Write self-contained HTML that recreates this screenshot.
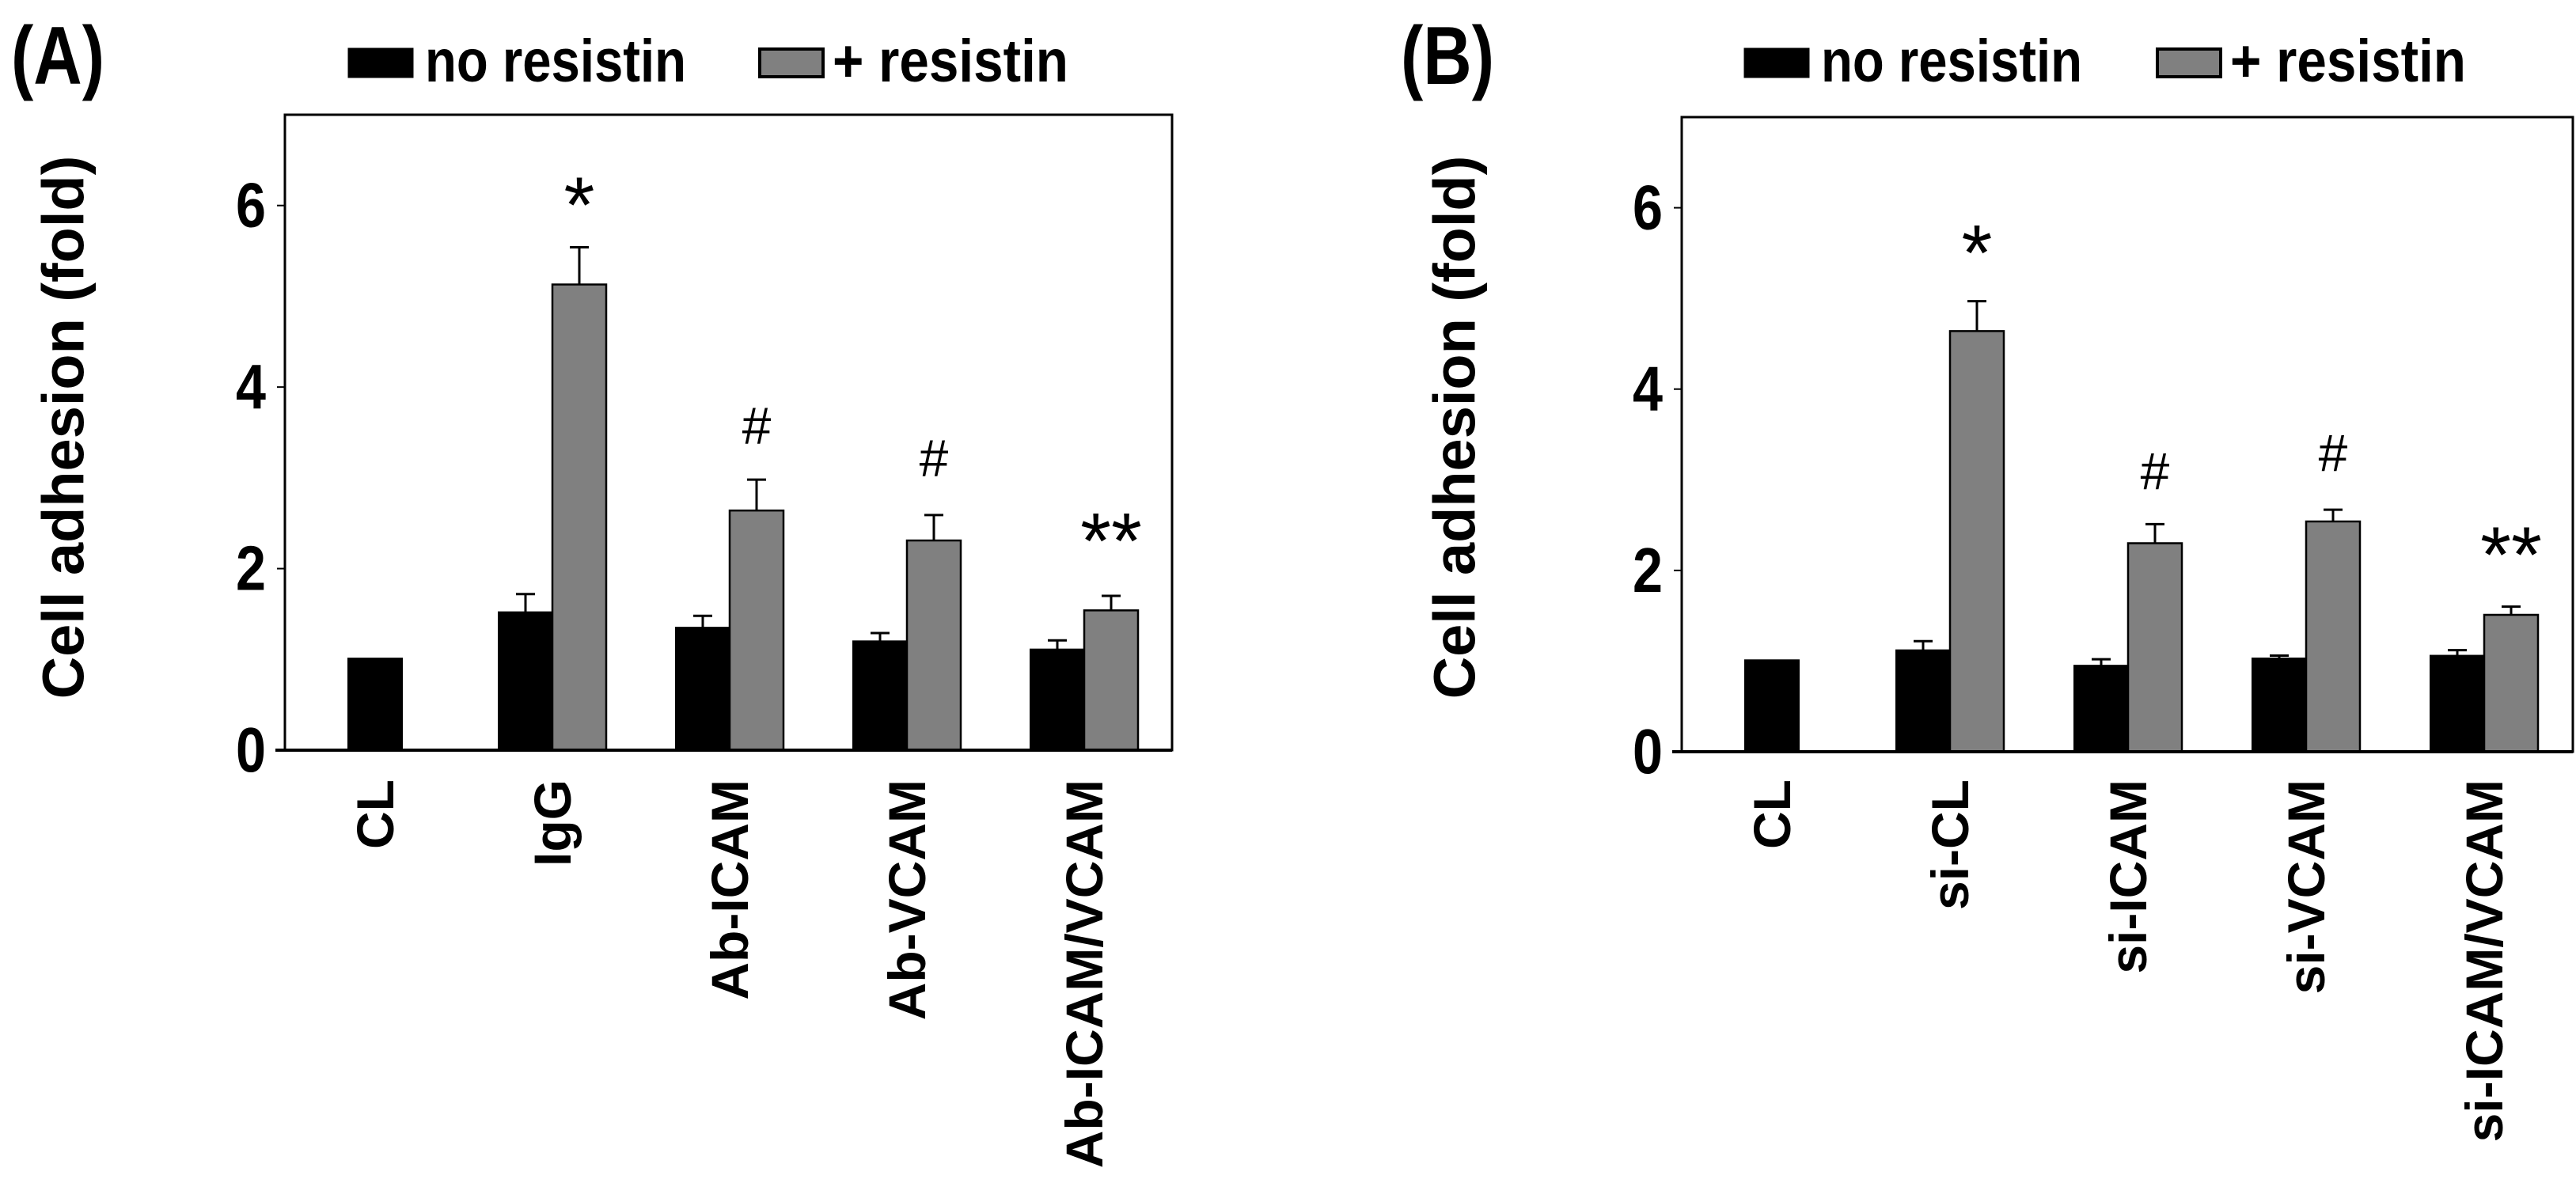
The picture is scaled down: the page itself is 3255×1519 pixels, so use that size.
<!DOCTYPE html>
<html><head><meta charset="utf-8"><style>
html,body{margin:0;padding:0;background:#fff;}
svg{display:block;font-family:"Liberation Sans",sans-serif;}
</style></head><body>
<svg id="fig" width="3255" height="1519" viewBox="0 0 3255 1519" xmlns="http://www.w3.org/2000/svg"></svg>
<script>
const categoriesA = ["CL","IgG","Ab-ICAM","Ab-VCAM","Ab-ICAM/VCAM"];
const noResA = [1.01, 1.52, 1.35, 1.20, 1.11];
const noResErrA = [0, 0.20, 0.13, 0.09, 0.10];
const resA = [null, 5.13, 2.64, 2.31, 1.54];
const resErrA = [0, 0.41, 0.34, 0.28, 0.16];
const marksA = ["", "*", "#", "#", "**"];
const markValA = [0, 6.0, 3.58, 3.22, 2.30];

const categoriesB = ["CL","si-CL","si-ICAM","si-VCAM","si-ICAM/VCAM"];
const noResB = [1.01, 1.12, 0.95, 1.03, 1.06];
const noResErrB = [0, 0.10, 0.07, 0.03, 0.06];
const resB = [null, 4.64, 2.30, 2.54, 1.51];
const resErrB = [0, 0.33, 0.21, 0.13, 0.09];
const marksB = ["", "*", "#", "#", "**"];
const markValB = [0, 5.5, 3.10, 3.30, 2.17];

const yTicks = [0, 2, 4, 6];
const yMax = 7;

const NS = "http://www.w3.org/2000/svg";
const svg = document.getElementById("fig");
function mk(tag, attrs, parent, text){
  const e = document.createElementNS(NS, tag);
  for (const k in attrs) e.setAttribute(k, attrs[k]);
  if (text !== undefined) e.textContent = text;
  (parent || svg).appendChild(e);
  return e;
}

function panel(cfg){
  const g = mk("g", {});
  
  
  const yS = v => cfg.bottom - (v / yMax) * (cfg.bottom - cfg.top);
  const xC = i => cfg.x0 + cfg.step * i;
  const bw = 68;

  const pl = mk("text", {x: cfg.labelX, y: 106, "font-size": 104, "font-weight": "bold", textLength: 118, lengthAdjust: "spacingAndGlyphs"}, g, cfg.letter);
  
  

  const lg = mk("g", {}, g);
  
  
  const lb1 = mk("rect", {x: cfg.legX1, y: 62, width: 80, height: 35, fill: "#000", stroke: "#000", "stroke-width": 3}, lg);
  
  
  const lt1 = mk("text", {x: cfg.legX1 + 96, y: 103, "font-size": 76, "font-weight": "bold", textLength: 330, lengthAdjust: "spacingAndGlyphs"}, lg, "no resistin");
  
  
  const lb2 = mk("rect", {x: cfg.legX2, y: 62, width: 80, height: 35, fill: "#808080", stroke: "#000", "stroke-width": 4}, lg);
  
  
  const lt2 = mk("text", {x: cfg.legX2 + 92, y: 103, "font-size": 76, "font-weight": "bold", textLength: 298, lengthAdjust: "spacingAndGlyphs"}, lg, "+ resistin");
  
  

  const yt = mk("text", {x: 0, y: 0, "font-size": 74, "font-weight": "bold", "text-anchor": "middle", "dominant-baseline": "central", transform: `translate(${cfg.yTitleX},540) rotate(-90)`}, g, "Cell adhesion (fold)");
  
  

  const fr = mk("rect", {x: cfg.left, y: cfg.top, width: cfg.right - cfg.left, height: cfg.bottom - cfg.top, fill: "none", stroke: "#000", "stroke-width": 3}, g);
  
  

  yTicks.forEach(t => {
    const y = yS(t);
    const tk = mk("line", {x1: cfg.left - 10, x2: cfg.left, y1: y, y2: y, stroke: "#000", "stroke-width": 2}, g);
    
    
    const tl = mk("text", {x: cfg.left - 62, y: y + 27, "font-size": 80, "font-weight": "bold", textLength: 38, lengthAdjust: "spacingAndGlyphs"}, g, String(t));
    
    
  });

  function errBar(cx, v, e){
    if (!e) return;
    const y1 = yS(v), y2 = yS(v + e);
    const l = mk("path", {d: `M${cx},${y1} V${y2} M${cx-12},${y2} H${cx+12}`, stroke: "#000", "stroke-width": 3, fill: "none"}, g);
    
    
  }

  cfg.cats.forEach((c, i) => {
    const cx = xC(i);
    let bx = cfg.res[i] === null ? cx - bw / 2 : cx - bw;
    const y0 = yS(0);
    const b1 = mk("rect", {x: bx, y: yS(cfg.noRes[i]), width: bw, height: y0 - yS(cfg.noRes[i]), fill: "#000", stroke: "#000", "stroke-width": 2}, g);
    
    
    errBar(bx + bw / 2, cfg.noRes[i], cfg.noResErr[i]);
    if (cfg.res[i] !== null) {
      const b2 = mk("rect", {x: cx, y: yS(cfg.res[i]), width: bw, height: y0 - yS(cfg.res[i]), fill: "#808080", stroke: "#000", "stroke-width": 2.5}, g);
      
      
      errBar(cx + bw / 2, cfg.res[i], cfg.resErr[i]);
    }
    if (cfg.marks[i]) {
      const m = mk("text", {x: cx + bw / 2, y: yS(cfg.markVal[i]), "font-size": cfg.marks[i] === "#" ? 66 : 100, "text-anchor": "middle", "dominant-baseline": "central"}, g, cfg.marks[i]);
      
      
    }
    const xl = mk("text", {x: 0, y: 0, "font-size": 66, "font-weight": "bold", "text-anchor": "end", "dominant-baseline": "central", transform: `translate(${cx},${cfg.labelTop}) rotate(-90)`}, g, c);
    
    
  });

  const ax = mk("line", {x1: cfg.left - 12, x2: cfg.right, y1: cfg.bottom, y2: cfg.bottom, stroke: "#000", "stroke-width": 4}, g);
  
  
}

panel({name: "panel-a", letter: "(A)", labelX: 14, legX1: 441, legX2: 960, yTitleX: 80,
  left: 360, right: 1481, top: 145, bottom: 948, x0: 474, step: 224, labelTop: 985,
  cats: categoriesA, noRes: noResA, noResErr: noResErrA, res: resA, resErr: resErrA, marks: marksA, markVal: markValA});
panel({name: "panel-b", letter: "(B)", labelX: 1770, legX1: 2205, legX2: 2726, yTitleX: 1838,
  left: 2125, right: 3251, top: 148, bottom: 950, x0: 2239, step: 225, labelTop: 985,
  cats: categoriesB, noRes: noResB, noResErr: noResErrB, res: resB, resErr: resErrB, marks: marksB, markVal: markValB});
</script>
</body></html>
